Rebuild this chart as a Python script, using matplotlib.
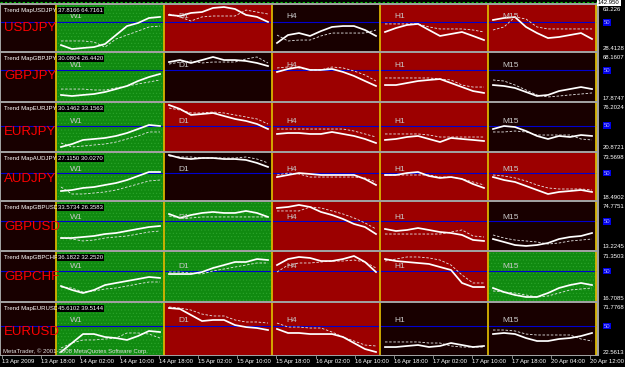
import numpy as np
import matplotlib.pyplot as plt
import matplotlib.transforms as mtransforms
from matplotlib.patches import Rectangle
from matplotlib.lines import Line2D

plt.rcParams['font.family'] = 'Liberation Sans'
plt.rcParams['hatch.linewidth'] = 0.4

PAIRS = ['USDJPY', 'GBPJPY', 'EURJPY', 'AUDJPY', 'GBPUSD', 'GBPCHF', 'EURUSD']
TIMEFRAMES = ['W1', 'D1', 'H4', 'H1', 'M15']
AXIS_TOP = [63.226, 68.1607, 76.2024, 73.5698, 74.7751, 71.3503, 71.7768]
AXIS_BOTTOM = [28.4128, 17.8747, 20.8721, 18.4902, 13.2245, 16.7085, 22.5613]
READOUTS = ['37.8166 64.7161', '30.0804 26.4420', '30.1462 33.1563', '27.1150 30.0270',
            '33.5734 26.3583', '36.1822 32.2520', '45.6102 39.5144']
TIME_LABELS = ['13 Apr 2009', '13 Apr 18:00', '14 Apr 02:00', '14 Apr 10:00', '14 Apr 18:00',
               '15 Apr 02:00', '15 Apr 10:00', '15 Apr 18:00', '16 Apr 02:00', '16 Apr 10:00',
               '16 Apr 18:00', '17 Apr 02:00', '17 Apr 10:00', '17 Apr 18:00', '20 Apr 04:00',
               '20 Apr 12:00']

# trend state of each cell (W1 .. M15)
TRENDS = [
    ['up', 'down', 'flat', 'down', 'down'],
    ['up', 'flat', 'down', 'down', 'flat'],
    ['up', 'down', 'down', 'down', 'flat'],
    ['up', 'flat', 'down', 'down', 'down'],
    ['up', 'up', 'down', 'down', 'flat'],
    ['up', 'up', 'down', 'down', 'up'],
    ['up', 'down', 'down', 'flat', 'flat'],
]

# solid line (main) per pair, one list per timeframe
USDJPY_MAIN = [[32.9, 29.9, 30.7, 31.4, 33.7, 40.5, 47.3, 49.6, 53.4, 54.2],
               [55.7, 54.9, 57.2, 57.9, 61.0, 61.7, 60.2, 55.7, 54.2, 50.4],
               [34.5, 40.5, 42.0, 39.8, 43.5, 46.6, 47.3, 47.3, 44.3, 39.8],
               [42.8, 45.8, 48.1, 48.9, 44.3, 39.8, 41.3, 42.8, 39.8, 36.7],
               [51.9, 53.4, 54.1, 46.6, 42.0, 38.2, 39.0, 40.5, 42.0, 37.5]]
USDJPY_SIGNAL = [[36.0, 36.0, 36.0, 35.2, 31.4, 37.5, 40.5, 43.5, 46.6, 47.3],
                 [56.4, 54.2, 51.1, 54.2, 54.9, 54.9, 54.9, 59.4, 57.9, 56.4],
                 [40.5, 36.0, 36.7, 36.7, 39.8, 42.0, 42.0, 42.0, 42.0, 44.3],
                 [48.9, 48.9, 48.9, 48.9, 46.6, 45.1, 45.1, 45.1, 44.3, 42.8],
                 [44.3, 46.6, 54.2, 52.6, 46.6, 45.1, 45.1, 45.1, 45.1, 45.1]]

GBPJPY_MAIN = [[24.2, 23.1, 24.2, 25.2, 27.3, 30.4, 33.6, 38.8, 43.0, 46.2],
               [58.7, 60.8, 57.7, 60.8, 64.0, 60.8, 60.8, 59.8, 57.7, 54.5],
               [48.3, 51.4, 53.5, 50.4, 50.4, 51.4, 48.3, 44.1, 38.8, 33.6],
               [34.6, 34.6, 36.7, 38.8, 39.9, 40.9, 36.7, 32.5, 28.3, 26.3],
               [34.6, 33.6, 31.5, 27.3, 23.1, 24.2, 28.3, 30.4, 32.5, 30.4]]
GBPJPY_SIGNAL = [[30.4, 30.4, 30.4, 29.4, 29.4, 31.5, 33.6, 35.7, 37.8, 39.9],
                 [56.6, 58.7, 59.8, 57.7, 58.7, 58.7, 58.7, 61.9, 64.0, 57.7],
                 [52.5, 53.5, 52.5, 50.4, 50.4, 53.5, 52.5, 49.3, 45.1, 38.8],
                 [42.0, 42.0, 42.0, 42.0, 42.0, 40.9, 39.9, 34.6, 32.5, 32.5],
                 [39.9, 38.8, 34.6, 29.4, 24.2, 22.1, 23.1, 24.2, 25.2, 26.3]]

EURJPY_MAIN = [[25.5, 28.9, 33.6, 34.7, 35.9, 38.2, 41.6, 46.2, 50.9, 49.7],
               [73.9, 69.3, 62.4, 63.5, 64.7, 61.2, 57.8, 55.5, 52.0, 46.2],
               [40.5, 41.6, 41.6, 40.5, 40.5, 42.8, 40.5, 38.2, 34.7, 30.1],
               [33.6, 34.7, 37.0, 38.2, 34.7, 31.2, 35.9, 34.7, 33.6, 32.4],
               [46.2, 49.7, 48.5, 43.9, 38.2, 34.7, 38.2, 37.0, 39.3, 38.2]]
EURJPY_SIGNAL = [[30.1, 25.5, 26.6, 27.8, 28.9, 31.2, 34.7, 38.2, 42.8, 42.8],
                 [70.4, 68.1, 64.7, 64.7, 65.8, 64.7, 62.4, 60.1, 57.8, 52.0],
                 [46.2, 46.2, 46.2, 46.2, 46.2, 46.2, 46.2, 43.9, 40.5, 37.0],
                 [40.5, 40.5, 40.5, 40.5, 39.3, 37.0, 37.0, 37.0, 37.0, 37.0],
                 [42.8, 42.8, 43.9, 42.8, 39.3, 39.3, 39.3, 39.3, 34.7, 33.6]]

AUDJPY_MAIN = [[29.0, 30.2, 32.6, 33.7, 36.1, 38.4, 41.9, 46.6, 51.3, 51.3],
               [71.2, 67.7, 66.5, 67.7, 67.7, 66.5, 66.5, 65.4, 61.9, 57.2],
               [45.4, 47.8, 50.1, 49.0, 47.8, 47.8, 47.8, 47.8, 43.1, 36.1],
               [47.8, 47.8, 50.1, 51.3, 46.6, 44.3, 45.4, 43.1, 37.2, 32.6],
               [45.4, 41.9, 39.6, 34.9, 30.2, 25.5, 27.9, 29.0, 30.2, 27.9]]
AUDJPY_SIGNAL = [[33.7, 25.5, 25.5, 26.7, 27.9, 30.2, 33.7, 37.2, 40.8, 41.9],
                 [70.1, 68.9, 68.9, 67.7, 67.7, 67.7, 67.7, 68.9, 66.5, 61.9],
                 [47.8, 50.1, 49.0, 45.4, 45.4, 45.4, 45.4, 45.4, 44.3, 39.6],
                 [47.8, 47.8, 47.8, 47.8, 47.8, 45.4, 45.4, 43.1, 39.6, 36.1],
                 [47.8, 46.6, 44.3, 40.8, 36.1, 32.6, 31.4, 31.4, 31.4, 30.2]]

GBPUSD_MAIN = [[28.6, 28.6, 29.9, 31.2, 33.7, 35.0, 37.6, 40.2, 42.7, 44.0],
               [59.4, 54.3, 58.1, 60.7, 62.0, 60.7, 60.7, 63.3, 60.7, 55.6],
               [67.1, 68.4, 71.0, 68.4, 62.0, 58.1, 53.0, 46.6, 42.7, 33.7],
               [40.2, 37.6, 38.9, 41.4, 38.9, 36.3, 35.0, 32.5, 26.1, 24.8],
               [27.3, 23.5, 19.6, 18.4, 19.6, 22.2, 27.3, 29.9, 31.2, 35.0]]
GBPUSD_SIGNAL = [[28.6, 27.3, 24.8, 26.0, 28.6, 29.9, 31.2, 33.7, 36.3, 37.6],
                 [56.8, 54.3, 54.3, 55.6, 55.6, 55.6, 55.6, 55.6, 55.6, 55.6],
                 [63.3, 63.3, 63.3, 68.4, 67.1, 63.3, 59.4, 54.3, 47.9, 40.2],
                 [33.7, 33.7, 33.7, 33.7, 33.7, 33.7, 36.3, 38.9, 31.2, 29.9],
                 [32.5, 28.6, 26.0, 24.8, 23.5, 20.9, 22.2, 24.8, 26.0, 27.3]]

GBPCHF_MAIN = [[33.4, 29.0, 25.6, 29.0, 34.5, 36.8, 39.0, 41.2, 43.5, 42.4],
               [46.8, 46.8, 46.8, 49.0, 53.5, 56.8, 60.2, 60.2, 63.5, 62.4],
               [56.8, 63.5, 65.8, 64.7, 61.3, 61.3, 63.5, 66.9, 60.2, 49.0],
               [63.5, 61.3, 60.2, 59.1, 58.0, 54.6, 51.3, 36.8, 32.3, 32.3],
               [31.2, 26.7, 23.4, 21.2, 21.2, 25.6, 31.2, 34.5, 36.8, 34.5]]
GBPCHF_SIGNAL = [[32.3, 31.2, 26.7, 27.9, 30.1, 31.2, 33.4, 35.7, 37.9, 37.9],
                 [49.0, 49.0, 47.9, 46.8, 50.2, 52.4, 54.6, 56.8, 59.1, 59.1],
                 [49.0, 56.8, 59.1, 59.1, 60.2, 61.3, 61.3, 62.4, 60.2, 53.5],
                 [61.3, 63.5, 65.8, 65.8, 64.7, 62.4, 56.8, 45.7, 36.8, 36.8],
                 [27.9, 26.7, 25.6, 23.4, 21.2, 22.3, 25.6, 29.0, 30.1, 31.2]]

EURUSD_MAIN = [[25.4, 33.9, 42.4, 42.4, 39.6, 38.6, 36.8, 40.5, 45.3, 44.3],
               [67.0, 66.1, 60.4, 54.7, 55.7, 55.7, 50.9, 49.0, 48.1, 46.2],
               [47.2, 43.4, 43.4, 42.4, 42.4, 42.4, 39.6, 33.9, 28.2, 25.4],
               [30.1, 30.1, 31.1, 32.0, 30.1, 31.1, 33.9, 32.0, 30.1, 31.1],
               [42.4, 43.4, 42.4, 38.6, 35.8, 35.8, 37.7, 38.6, 40.5, 43.4]]
EURUSD_SIGNAL = [[29.2, 33.9, 36.8, 36.8, 37.7, 38.6, 43.4, 43.4, 42.4, 38.6],
                 [68.0, 67.0, 65.1, 61.3, 59.5, 59.5, 55.7, 53.8, 53.8, 52.8],
                 [52.8, 49.0, 49.0, 48.1, 48.1, 44.3, 39.6, 35.8, 32.0, 31.1],
                 [34.9, 34.9, 34.9, 34.9, 33.9, 33.9, 31.1, 30.1, 30.1, 30.1],
                 [46.2, 46.2, 45.3, 42.4, 41.5, 41.5, 41.5, 41.5, 37.7, 35.8]]

MAIN = [USDJPY_MAIN, GBPJPY_MAIN, EURJPY_MAIN, AUDJPY_MAIN, GBPUSD_MAIN, GBPCHF_MAIN, EURUSD_MAIN]
SIGNAL = [USDJPY_SIGNAL, GBPJPY_SIGNAL, EURJPY_SIGNAL, AUDJPY_SIGNAL, GBPUSD_SIGNAL,
          GBPCHF_SIGNAL, EURUSD_SIGNAL]

# layout (pixels)
W, H = 625, 367
ROW_TOP = [5, 53, 103, 153, 202, 252, 303]
ROW_BOT = [51, 101, 151, 200, 250, 301, 355]
CELL = 108.0
TF_OFFSET = [6, 5, 4, 4, 4, 5, 6]
COLORS = {'up': '#108a10', 'down': '#9c0000', 'flat': '#180000'}
DARK = '#180000'
SMALL = 4.3


def fx(px):
    return px / W


def fy(py):
    return 1 - py / H


fig = plt.figure(figsize=(W / 100, H / 100), dpi=100)
fig.patch.set_facecolor('black')

# grey frame / separators behind the rows
fig.add_artist(Rectangle((0, fy(356)), fx(599), (356 - 3) / H, transform=fig.transFigure,
                         facecolor='#a0a0a0', edgecolor='none', zorder=-5))
fig.add_artist(Line2D([0, fx(597)], [fy(1.5), fy(1.5)], transform=fig.transFigure,
                      color='#00c000', lw=0.8, ls=(0, (2, 2))))

for i, pair in enumerate(PAIRS):
    top, bot = ROW_TOP[i], ROW_BOT[i]
    lo, hi = AXIS_BOTTOM[i], AXIS_TOP[i]
    ax = fig.add_axes([fx(1), fy(bot), fx(596), (bot - top) / H])
    ax.set_xlim(-55 / CELL, 5 + 1 / CELL)
    ax.set_ylim(lo, hi)
    ax.set_axis_off()

    ax.axvspan(-55 / CELL, 0, color=DARK, lw=0)
    for c, state in enumerate(TRENDS[i]):
        if state == 'up':
            ax.axvspan(c, c + 1, facecolor=COLORS[state], edgecolor='#2da52d', hatch='.....', lw=0)
        else:
            ax.axvspan(c, c + 1, facecolor=COLORS[state], edgecolor='none', lw=0)

    ax.axhline(50, color='#0000d0', lw=0.8)
    for c in range(6):
        ax.axvline(c, color='#d8b400', lw=1.3)

    for c, tf in enumerate(TIMEFRAMES):
        xs = c + np.linspace(5, 104, 10) / CELL
        ax.plot(xs, SIGNAL[i][c], color='#e6e6e6', lw=0.6, ls=(0, (3, 2)))
        ax.plot(xs, MAIN[i][c], color='white', lw=1.25, solid_joinstyle='round')
        ax.annotate(tf, xy=(c + 14 / CELL, 50), xytext=(0, TF_OFFSET[i] * 0.72),
                    textcoords='offset points', color='#c8c8c8', fontsize=6, va='center')

    ax.text(-52 / CELL, 50, pair, color='#ff0000', fontsize=9.5, va='top', ha='left')

    fig.text(fx(4), fy(top + 5.5), 'Trend Map' + pair, color='white', fontsize=SMALL, va='center')
    fig.text(fx(58), fy(top + 5.5), READOUTS[i], color='white', fontsize=SMALL, va='center',
             bbox=dict(facecolor='black', edgecolor='none', pad=0.8))

    # right price scale
    fig.text(fx(603), fy(top + 4.5), str(hi), color='white', fontsize=SMALL, va='center')
    fig.text(fx(603), fy(bot - 3), str(lo), color='white', fontsize=SMALL, va='center')
    trans = mtransforms.blended_transform_factory(fig.transFigure, ax.transData)
    fig.text(fx(604), 50, '50', transform=trans, color='#a8a8ff', fontsize=SMALL, va='center',
             bbox=dict(facecolor='#0000e8', edgecolor='none', pad=0.6))

fig.text(fx(598), fy(0.5), '142.950', color='black', fontsize=SMALL, va='top',
         bbox=dict(facecolor='white', edgecolor='none', pad=0.6))

fig.text(fx(3), fy(351), 'MetaTrader, \u00a9 2001-2008 MetaQuotes Software Corp.',
         color='#e0e0e0', fontsize=SMALL, va='center')

for k, lab in enumerate(TIME_LABELS):
    x = 2 + k * 39.2
    fig.text(fx(x), fy(361.5), lab, color='white', fontsize=SMALL, va='center')
    fig.add_artist(Line2D([fx(x), fx(x)], [fy(356), fy(358)], transform=fig.transFigure,
                          color='#a0a0a0', lw=0.6))

fig.savefig('out.png', dpi=100, facecolor=fig.get_facecolor())
